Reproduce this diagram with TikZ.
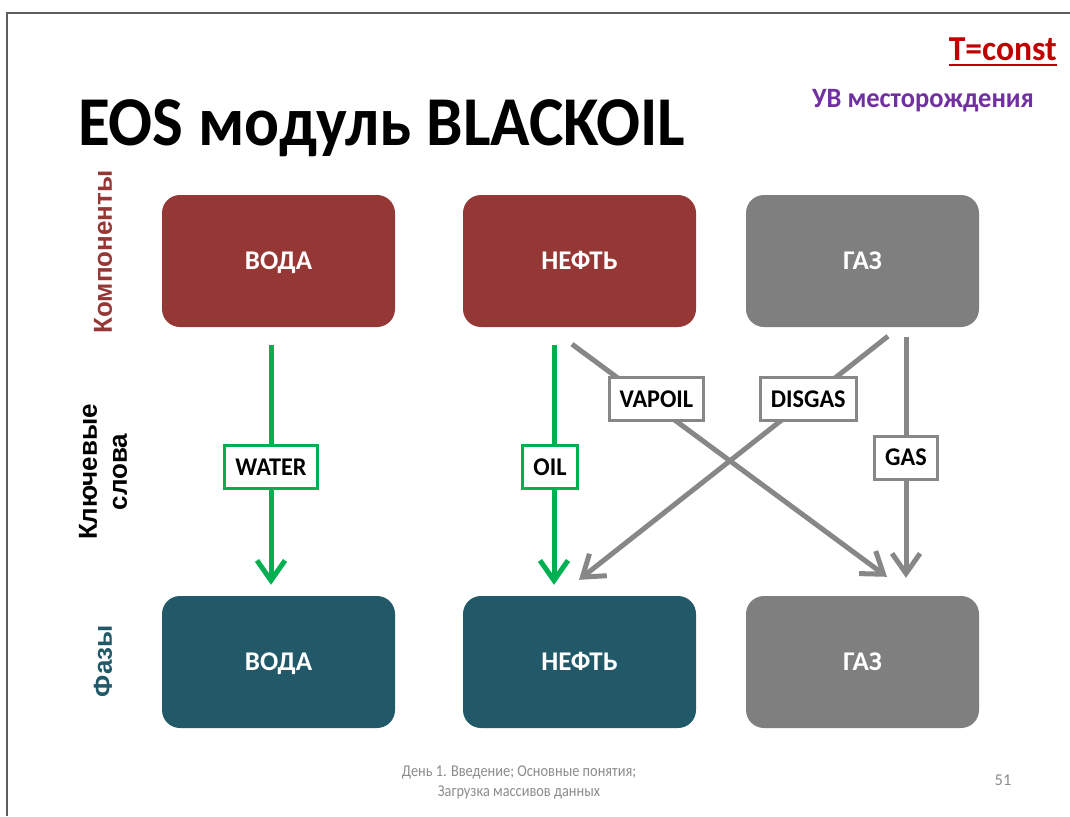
\documentclass[tikz,border=0pt]{standalone}
\usepackage{fontspec}
\setmainfont{Carlito}
\newfontfamily\sidefont{Liberation Sans}
\usetikzlibrary{arrows.meta}

\definecolor{compred}{HTML}{953735}
\definecolor{phaseteal}{HTML}{215968}
\definecolor{boxgray}{HTML}{7F7F7F}
\definecolor{flowgreen}{HTML}{00B050}
\definecolor{flowgray}{HTML}{878787}
\definecolor{constred}{HTML}{C00000}
\definecolor{fieldpurple}{HTML}{7030A0}
\definecolor{footgray}{HTML}{8C8C8C}
\definecolor{framegray}{HTML}{5E5E5E}

\tikzset{
  block/.style={rounded corners=18, minimum width=233, minimum height=132,
    inner sep=0, text=white, text height=17.4pt, text depth=0pt,
    font=\fontsize{27}{30}\selectfont\bfseries},
  flow/.style={line width=5, -{Straight Barb[length=20,width=28]}},
  tag/.style={fill=white, line width=3, text=black, minimum height=43,
    text height=16.4pt, text depth=0pt,
    inner xsep=10.5, inner ysep=0, font=\fontsize{25.5}{28}\selectfont\bfseries},
  rowlabel/.style={rotate=90, font=\sidefont\fontsize{26}{30}\selectfont\bfseries, align=center},
  footer/.style={text=footgray, font=\fontsize{16.5}{20}\selectfont, align=center}
}

\begin{document}
\begin{tikzpicture}[x=1pt,y=-1pt]
  \useasboundingbox (0,0) rectangle (1070,816);
  \fill[white] (0,0) rectangle (1070,816);

  % slide frame
  \draw[framegray, line width=1.6] (7,816) -- (7,13) -- (1070,13);

  % headings
  \node[anchor=base west, inner sep=0, font=\fontsize{70}{74}\selectfont\bfseries]
    (title) at (78,145) {\scalebox{0.93}[1]{EOS модуль BLACKOIL}};
  \node[anchor=base east, inner sep=0, text=constred, font=\fontsize{35}{38}\selectfont\bfseries]
    (tconst) at (1057,60) {\scalebox{0.96}[1]{T=const}};
  \draw[constred, line width=2.2] ([yshift=-5pt]tconst.base west) -- ([yshift=-5pt]tconst.base east);
  \node[anchor=base west, inner sep=0, text=fieldpurple, font=\fontsize{28}{32}\selectfont\bfseries]
    (field) at (812,107) {\scalebox{0.945}[1]{УВ месторождения}};

  % row captions
  \node[rowlabel, text=compred] (rowcomp) at (103,252) {Компоненты};
  \node[rowlabel, text=black] (rowkeys) at (103,472) {Ключевые\\слова};
  \node[rowlabel, text=phaseteal] (rowphase) at (103,661) {Фазы};

  % components
  \node[block, fill=compred] (cw) at (278.5,261) {ВОДА};
  \node[block, fill=compred] (co) at (579.5,261) {НЕФТЬ};
  \node[block, fill=boxgray] (cg) at (862.5,261) {ГАЗ};

  % phases
  \node[block, fill=phaseteal] (pw) at (278.5,662) {ВОДА};
  \node[block, fill=phaseteal] (po) at (579.5,662) {НЕФТЬ};
  \node[block, fill=boxgray] (pg) at (862.5,662) {ГАЗ};

  % keyword connectors
  \draw[flowgreen, flow] ([xshift=-7.5pt,yshift=-18pt]cw.south)
    -- node[tag, draw=flowgreen, pos=0.51] (kwater) {\scalebox{0.95}[1]{WATER}}
    ([xshift=-7.5pt,yshift=11pt]pw.north);
  \draw[flowgreen, flow] ([xshift=-25.5pt,yshift=-18pt]co.south)
    -- node[tag, draw=flowgreen, pos=0.51, xshift=-4pt] (koil) {\scalebox{0.95}[1]{OIL}}
    ([xshift=-25.5pt,yshift=11pt]po.north);
  \draw[flowgray, flow] ([xshift=-7.5pt,yshift=-17pt]co.south)
    -- node[tag, draw=flowgray, pos=0.236, xshift=10pt] (kvapoil) {\scalebox{0.95}[1]{VAPOIL}}
    ([xshift=24.5pt,yshift=19pt]pg.north);
  \draw[flowgray, flow] ([xshift=25.5pt,yshift=-9pt]cg.south)
    -- node[tag, draw=flowgray, pos=0.258] (kdisgas) {\scalebox{0.95}[1]{DISGAS}}
    ([xshift=-0.5pt,yshift=16pt]po.north);
  \draw[flowgray, flow] ([xshift=43.5pt,yshift=-10pt]cg.south)
    -- node[tag, draw=flowgray, pos=0.50] (kgas) {\scalebox{0.95}[1]{GAS}}
    ([xshift=43.5pt,yshift=18pt]pg.north);

  % footer
  \node[footer] (foot) at (519,782) {\scalebox{0.87}[1]{День 1. Введение; Основные понятия;}\\\scalebox{0.87}[1]{Загрузка массивов данных}};
  \node[footer] (page) at (1003,780) {51};
\end{tikzpicture}
\end{document}
